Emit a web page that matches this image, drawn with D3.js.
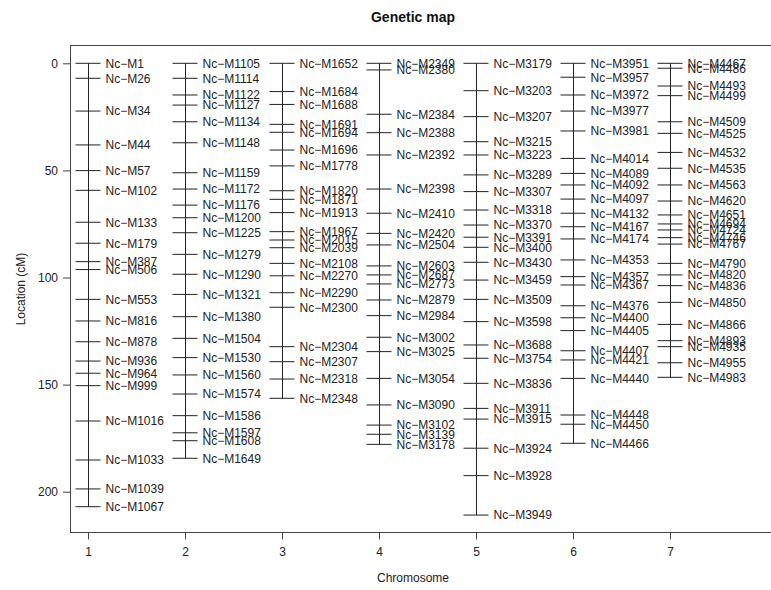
<!DOCTYPE html>
<html><head><meta charset="utf-8">
<script src="https://cdn.jsdelivr.net/npm/d3@7"></script>
<style>body{margin:0;background:#fff}svg{display:block}text{font-family:"Liberation Sans",Arial,sans-serif}</style>
</head><body>
<svg id="c" width="771" height="590"></svg>
<script>
const chromosomes = [1, 2, 3, 4, 5, 6, 7];
const yTicks = [0, 50, 100, 150, 200];

const chr1Markers = ["M1","M26","M34","M44","M57","M102","M133","M179","M387","M506","M553","M816","M878","M936","M964","M999","M1016","M1033","M1039","M1067"];
const chr1Pos = [0,7.0,22.3,38.1,50.1,59.3,74.2,84.0,92.6,96.3,110.2,120.3,130.0,139.0,144.7,150.5,167.0,185.2,198.7,207.0];

const chr2Markers = ["M1105","M1114","M1122","M1127","M1134","M1148","M1159","M1172","M1176","M1200","M1225","M1279","M1290","M1321","M1380","M1504","M1530","M1560","M1574","M1586","M1597","M1608","M1649"];
const chr2Pos = [0,7.0,14.8,19.5,27.3,37.1,51.1,58.7,66.2,72.1,79.1,89.2,98.5,107.9,118.3,128.4,137.4,145.5,154.4,164.5,172.5,176.2,184.4];

const chr3Markers = ["M1652","M1684","M1688","M1691","M1694","M1696","M1778","M1820","M1871","M1913","M1967","M2015","M2039","M2108","M2270","M2290","M2300","M2304","M2307","M2318","M2348"];
const chr3Pos = [0,13.2,19.2,28.5,32.2,40.5,47.9,59.5,63.5,69.7,78.6,82.5,86.1,93.4,99.2,107.1,113.9,132.3,139.3,147.4,156.4];

const chr4Markers = ["M2349","M2380","M2384","M2388","M2392","M2398","M2410","M2420","M2504","M2603","M2687","M2773","M2879","M2984","M3002","M3025","M3054","M3090","M3102","M3139","M3178"];
const chr4Pos = [0,3.1,23.8,32.4,42.8,58.7,70.0,79.4,84.8,94.6,98.8,103.0,110.5,117.8,127.9,134.6,147.1,159.5,168.9,173.2,177.9];

const chr5Markers = ["M3179","M3203","M3207","M3215","M3223","M3289","M3307","M3318","M3370","M3391","M3400","M3430","M3459","M3509","M3598","M3688","M3754","M3836","M3911","M3915","M3924","M3928","M3949"];
const chr5Pos = [0,12.8,24.9,36.6,42.8,52.1,59.9,68.5,75.5,81.2,85.9,92.9,101.2,110.2,120.6,131.5,137.7,149.4,161.1,166.1,179.7,192.5,210.9];

const chr6Markers = ["M3951","M3957","M3972","M3977","M3981","M4014","M4089","M4092","M4097","M4132","M4167","M4174","M4353","M4357","M4367","M4376","M4400","M4405","M4407","M4421","M4440","M4448","M4450","M4466"];
const chr6Pos = [0,6.5,14.8,22.3,31.6,44.4,51.4,56.8,63.4,70.0,76.3,82.0,91.8,99.6,103.5,113.2,118.8,124.8,134.2,138.5,147.1,164.2,168.5,177.4];

const chr7Markers = ["M4467","M4486","M4493","M4499","M4509","M4525","M4532","M4535","M4563","M4620","M4651","M4694","M4724","M4746","M4767","M4790","M4820","M4836","M4850","M4866","M4893","M4935","M4955","M4983"];
const chr7Pos = [0,2.3,10.6,15.1,27.3,32.7,41.6,49.0,56.8,64.3,70.8,75.0,77.8,81.4,84.4,93.4,98.8,103.8,111.6,121.9,129.5,132.3,139.8,146.6];

const markerSets = [chr1Markers,chr2Markers,chr3Markers,chr4Markers,chr5Markers,chr6Markers,chr7Markers];
const posSets = [chr1Pos,chr2Pos,chr3Pos,chr4Pos,chr5Pos,chr6Pos,chr7Pos];

const svg = d3.select("#c");
const box = {left: 70.5, top: 45.5, right: 790, bottom: 532.5};
const x = d3.scaleLinear().domain([1, 7]).range([88, 670]);
const y = d3.scaleLinear().domain([0, 200]).range([63.3, 491.7]);
const col = "#222";

// plot box
svg.append("rect").attr("x", box.left).attr("y", box.top)
  .attr("width", box.right - box.left).attr("height", box.bottom - box.top)
  .attr("fill", "none").attr("stroke", "#444").attr("stroke-width", 1);

// axes
const yAxis = d3.axisLeft(y).tickValues(yTicks).tickSize(7).tickPadding(5).tickFormat(d3.format("d"));
const gy = svg.append("g").attr("transform", `translate(${box.left - 0.5},0)`).call(yAxis);
gy.select(".domain").remove();
gy.selectAll("line").attr("stroke", "#444");
gy.selectAll("text").attr("font-size", 12).attr("fill", "#222").attr("font-family", "Liberation Sans, Arial, sans-serif");

const xAxis = d3.axisBottom(x).tickValues(chromosomes).tickSize(7).tickPadding(8).tickFormat(d3.format("d"));
const gx = svg.append("g").attr("transform", `translate(0,${box.bottom})`).call(xAxis);
gx.select(".domain").remove();
gx.selectAll("line").attr("stroke", "#444");
gx.selectAll("text").attr("font-size", 12).attr("fill", "#222").attr("font-family", "Liberation Sans, Arial, sans-serif");

// chromosomes
chromosomes.forEach((c, i) => {
  const pos = posSets[i], names = markerSets[i];
  const g = svg.append("g");
  const cx = Math.round(x(c)) + 0.5;
  g.append("line").attr("x1", cx).attr("x2", cx)
    .attr("y1", y(d3.min(pos))).attr("y2", y(d3.max(pos)))
    .attr("stroke", col).attr("stroke-width", 1);
  g.selectAll("line.m").data(pos).join("line").attr("class", "m")
    .attr("x1", cx - 13).attr("x2", cx + 12)
    .attr("y1", d => y(d)).attr("y2", d => y(d))
    .attr("stroke", col).attr("stroke-width", 1);
  g.selectAll("text").data(names).join("text")
    .attr("x", cx + 17).attr("y", (d, j) => y(pos[j]))
    .attr("dy", "0.36em").attr("font-size", 12).attr("fill", "#222")
    .text(d => "Nc\u2212" + d);
});

// titles
svg.append("text").attr("x", 413).attr("y", 22).attr("text-anchor", "middle")
  .attr("font-size", 14).attr("font-weight", "bold").attr("fill", "#111").text("Genetic map");
svg.append("text").attr("x", 413).attr("y", 582).attr("text-anchor", "middle")
  .attr("font-size", 12).attr("fill", "#222").text("Chromosome");
svg.append("text").attr("transform", "translate(25,289) rotate(-90)").attr("text-anchor", "middle")
  .attr("font-size", 12).attr("fill", "#222").text("Location (cM)");
</script>
</body></html>
